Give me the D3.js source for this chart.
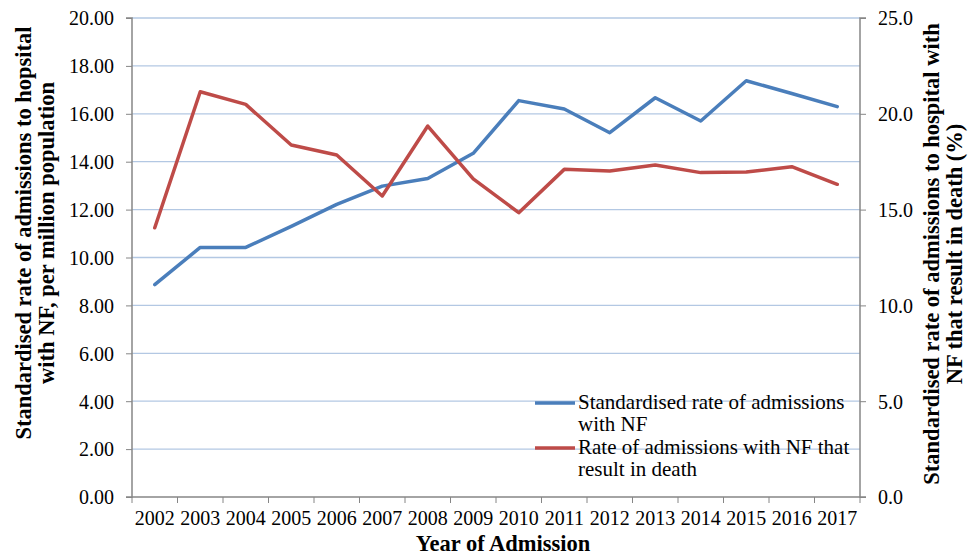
<!DOCTYPE html>
<html>
<head>
<meta charset="utf-8">
<script src="https://cdn.jsdelivr.net/npm/d3@7"></script>
<style>
  body { margin: 0; background: #fff; }
  svg text { font-family: "Liberation Serif", "Times New Roman", serif; fill: #000; }
</style>
</head>
<body>
<div id="chart"></div>
<script>
const years = ["2002", "2003", "2004", "2005", "2006", "2007", "2008", "2009",
  "2010", "2011", "2012", "2013", "2014", "2015", "2016", "2017"];
// left axis: admissions per million
const admissions = [8.87, 10.42, 10.42, 11.3, 12.22, 12.98, 13.3, 14.35,
  16.55, 16.2, 15.21, 16.67, 15.7, 17.38, 16.85, 16.3];
// right axis: % resulting in death
const deathRate = [14.05, 21.15, 20.49, 18.37, 17.85, 15.71, 19.36, 16.6,
  14.84, 17.1, 17.01, 17.33, 16.93, 16.96, 17.24, 16.32];
const leftTicks = [0, 2, 4, 6, 8, 10, 12, 14, 16, 18, 20];
const rightTicks = [0, 5, 10, 15, 20, 25];
const legendLabels = [
  ["Standardised rate of admissions", "with NF"],
  ["Rate of admissions with NF that", "result in death"]
];

const width = 976, height = 557;
const margins = { top: 18, right: 116, bot: 60, left: 132 };
const chartWidth = width - margins.left - margins.right;
const chartHeight = height - margins.top - margins.bot;

const blue = "#4a7ebb", red = "#be4b48", axisGrey = "#868686", gridBlue = "#b3c8e3";

const svg = d3.select("#chart").append("svg")
  .attr("width", width)
  .attr("height", height);
const g = svg.append("g")
  .attr("transform", `translate(${margins.left},${margins.top})`);

const xScale = d3.scaleBand().domain(years).range([0, chartWidth]);
const yLeft = d3.scaleLinear().domain([0, 20]).range([chartHeight, 0]);
const yRight = d3.scaleLinear().domain([0, 25]).range([chartHeight, 0]);

// gridlines
g.append("g")
  .selectAll("line")
  .data(leftTicks.filter(d => d > 0))
  .join("line")
  .attr("x1", 0)
  .attr("x2", chartWidth)
  .attr("y1", d => yLeft(d))
  .attr("y2", d => yLeft(d))
  .attr("stroke", gridBlue)
  .attr("stroke-width", 1.3);

// left axis
const leftAxis = g.append("g")
  .call(d3.axisLeft(yLeft).tickValues(leftTicks).tickFormat(d3.format(".2f")).tickSize(6).tickPadding(12));
leftAxis.selectAll("text").style("font-size", "20px").attr("dy", "0.34em");

// right axis
const rightAxis = g.append("g")
  .attr("transform", `translate(${chartWidth},0)`)
  .call(d3.axisRight(yRight).tickValues(rightTicks).tickFormat(d3.format(".1f")).tickSize(6).tickPadding(12));
rightAxis.selectAll("text").style("font-size", "20px").attr("dy", "0.34em");

// x axis, ticks between categories
const xAxis = g.append("g")
  .attr("transform", `translate(0,${chartHeight})`)
  .call(d3.axisBottom(xScale).tickSize(0).tickPadding(14));
xAxis.selectAll("text").style("font-size", "20px");
xAxis.selectAll(".sep")
  .data(d3.range(years.length + 1))
  .join("line")
  .attr("class", "sep")
  .attr("x1", i => i * xScale.bandwidth())
  .attr("x2", i => i * xScale.bandwidth())
  .attr("y1", 0)
  .attr("y2", 6)
  .attr("stroke", axisGrey);

[leftAxis, rightAxis, xAxis].forEach(a => {
  a.select(".domain").attr("stroke", axisGrey).attr("stroke-width", 1.5);
  a.selectAll(".tick line").attr("stroke", axisGrey);
});
leftAxis.select(".domain").attr("d", `M-6,0H0V${chartHeight}H-6`);
rightAxis.select(".domain").attr("d", `M6,0H0V${chartHeight}H6`);
xAxis.select(".domain").attr("d", `M0,0H${chartWidth}`);

// lines
const cx = d => xScale(d) + xScale.bandwidth() / 2;
const lineLeft = d3.line().x((d, i) => cx(years[i])).y(d => yLeft(d));
const lineRight = d3.line().x((d, i) => cx(years[i])).y(d => yRight(d));

g.append("path")
  .datum(admissions)
  .attr("d", lineLeft)
  .attr("fill", "none")
  .attr("stroke", blue)
  .attr("stroke-width", 3.5)
  .attr("stroke-linejoin", "round")
  .attr("stroke-linecap", "round");

g.append("path")
  .datum(deathRate)
  .attr("d", lineRight)
  .attr("fill", "none")
  .attr("stroke", red)
  .attr("stroke-width", 3.5)
  .attr("stroke-linejoin", "round")
  .attr("stroke-linecap", "round");

// legend
const legend = svg.append("g").attr("transform", "translate(535,403)");
const lg = legend.selectAll("g")
  .data(legendLabels)
  .join("g")
  .attr("transform", (_, i) => `translate(0,${i * 45})`);
lg.append("line")
  .attr("x1", 0).attr("x2", 40)
  .attr("y1", 0).attr("y2", 0)
  .attr("stroke", (_, i) => [blue, red][i])
  .attr("stroke-width", 3.5);
lg.append("text")
  .attr("x", 43)
  .attr("y", 6)
  .style("font-size", "21px")
  .selectAll("tspan")
  .data(d => d)
  .join("tspan")
  .attr("x", 43)
  .attr("dy", (_, i) => i === 0 ? 0 : 22)
  .text(d => d);

// axis titles
svg.append("text")
  .attr("transform", "translate(31,233) rotate(-90)")
  .attr("text-anchor", "middle")
  .style("font-size", "22.5px")
  .style("font-weight", "bold")
  .selectAll("tspan")
  .data(["Standardised rate of admissions to hopsital", "with NF, per million population"])
  .join("tspan")
  .attr("x", 0)
  .attr("dy", (_, i) => i === 0 ? 0 : 23)
  .text(d => d);

svg.append("text")
  .attr("transform", "translate(939,254) rotate(-90)")
  .attr("text-anchor", "middle")
  .style("font-size", "22.5px")
  .style("font-weight", "bold")
  .selectAll("tspan")
  .data(["Standardised rate of admissions to hospital with", "NF that result in death (%)"])
  .join("tspan")
  .attr("x", 0)
  .attr("dy", (_, i) => i === 0 ? 0 : 23)
  .text(d => d);

svg.append("text")
  .attr("x", margins.left + chartWidth / 2 + 7)
  .attr("y", 551)
  .attr("text-anchor", "middle")
  .style("font-size", "22.5px")
  .style("font-weight", "bold")
  .text("Year of Admission");
</script>
</body>
</html>
